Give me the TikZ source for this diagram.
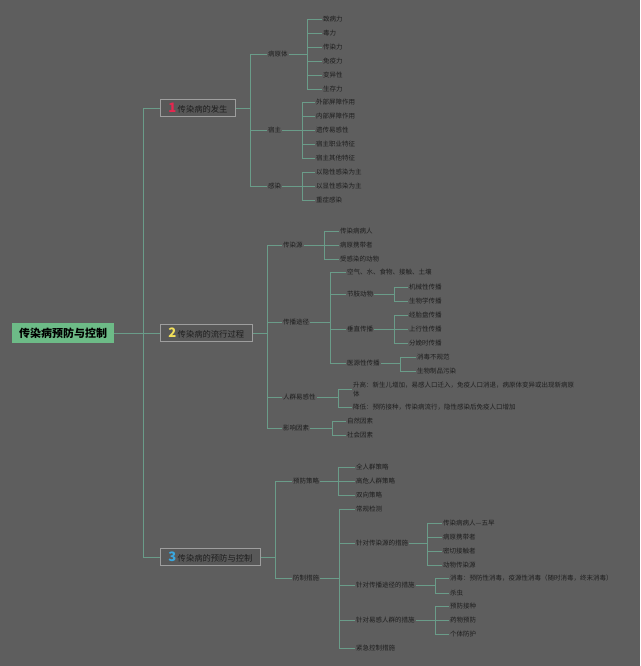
\documentclass[tikz,border=0pt]{standalone}
\usepackage{fontspec}
\setmainfont{Noto Sans CJK SC}
\definecolor{bg}{HTML}{5E5E5E}
\definecolor{lnk}{HTML}{6A9C89}
\definecolor{txt}{HTML}{1E1E1E}
\definecolor{rootg}{HTML}{6DBB87}
\definecolor{bdr}{HTML}{9E9E9E}
\definecolor{boxf}{HTML}{585858}
\definecolor{nred}{HTML}{E8264F}
\definecolor{nyel}{HTML}{F2E05A}
\definecolor{nblu}{HTML}{3AA8E0}
\newcommand{\topicnum}[2]{{\color{#1}\fontsize{13}{13}\selectfont\bfseries #2}\,}
\tikzset{
  link/.style={draw=lnk, line width=0.65pt},
  root/.style={fill=rootg, font=\fontsize{11}{13}\selectfont\bfseries, text=black, minimum width=102pt, minimum height=20pt, inner sep=0pt},
  topic/.style={anchor=west, draw=bdr, fill=boxf, line width=0.8pt, font=\fontsize{8.3}{10}\selectfont, text=txt, minimum height=17pt, inner xsep=8pt, inner ysep=0pt},
  sub/.style={anchor=west, inner xsep=1pt, inner ysep=1pt, font=\fontsize{6.5}{8}\selectfont, text=txt},
}
\begin{document}
\begin{tikzpicture}[x=1pt,y=-1pt]
\useasboundingbox[fill=bg] (0,0) rectangle (640,666);
% root and main topics
\node[root] (root) at (63,333) {传染病预防与控制};
\node[topic] (t1) at (160,108) {\topicnum{nred}{1}传染病的发生};
\node[topic] (t2) at (160,333) {\topicnum{nyel}{2}传染病的流行过程};
\node[topic] (t3) at (160,557) {\topicnum{nblu}{3}传染病的预防与控制};
% 1
\node[sub] (pa) at (267,54) {病原体};
\node[sub] (pa1) at (322,19) {致病力};
\node[sub] (pa2) at (322,33) {毒力};
\node[sub] (pa3) at (322,47) {传染力};
\node[sub] (pa4) at (322,61) {免疫力};
\node[sub] (pa5) at (322,75) {变异性};
\node[sub] (pa6) at (322,89) {生存力};
\node[sub] (ho) at (267,130) {宿主};
\node[sub] (ho1) at (315,102) {外部屏障作用};
\node[sub] (ho2) at (315,116) {内部屏障作用};
\node[sub] (ho3) at (315,130) {遗传易感性};
\node[sub] (ho4) at (315,144) {宿主职业特征};
\node[sub] (ho5) at (315,158) {宿主其他特征};
\node[sub] (in) at (267,186) {感染};
\node[sub] (in1) at (315,172) {以隐性感染为主};
\node[sub] (in2) at (315,186) {以显性感染为主};
\node[sub] (in3) at (315,200) {重症感染};
% 2
\node[sub] (so) at (282,245) {传染源};
\node[sub] (so1) at (339,231) {传染病病人};
\node[sub] (so2) at (339,245) {病原携带者};
\node[sub] (so3) at (339,259) {受感染的动物};
\node[sub] (ro) at (282,322) {传播途径};
\node[sub] (ro1) at (346,272) {空气、水、食物、接触、土壤};
\node[sub] (ro2) at (346,294) {节肢动物};
\node[sub] (ro3) at (346,329) {垂直传播};
\node[sub] (ro4) at (346,363) {医源性传播};
\node[sub] (ar1) at (408,287) {机械性传播};
\node[sub] (ar2) at (408,301) {生物学传播};
\node[sub] (ve1) at (408,315) {经胎盘传播};
\node[sub] (ve2) at (408,329) {上行性传播};
\node[sub] (ve3) at (408,343) {分娩时传播};
\node[sub] (ia1) at (416,357) {消毒不规范};
\node[sub] (ia2) at (416,371) {生物制品污染};
\node[sub] (su) at (282,397) {人群易感性};
\node[sub, align=left, font=\fontsize{6.5}{9}\selectfont] (su1) at (352,389.5) {升高：新生儿增加，易感人口迁入，免疫人口消退，病原体变异或出现新病原\\体};
\node[sub] (su2) at (352,407) {降低：预防接种，传染病流行，隐性感染后免疫人口增加};
\node[sub] (fa) at (282,428) {影响因素};
\node[sub] (fa1) at (346,421) {自然因素};
\node[sub] (fa2) at (346,435) {社会因素};
% 3
\node[sub] (st) at (292,481) {预防策略};
\node[sub] (st1) at (355,467) {全人群策略};
\node[sub] (st2) at (355,481) {高危人群策略};
\node[sub] (st3) at (355,495) {双向策略};
\node[sub] (me) at (292,578) {防制措施};
\node[sub] (me1) at (355,509) {常规检测};
\node[sub] (me2) at (355,543) {针对传染源的措施};
\node[sub] (me3) at (355,585) {针对传播途径的措施};
\node[sub] (me4) at (355,620) {针对易感人群的措施};
\node[sub] (me5) at (355,648) {紧急控制措施};
\node[sub] (sr1) at (442,523) {传染病病人—五早};
\node[sub] (sr2) at (442,537) {病原携带者};
\node[sub] (sr3) at (442,551) {密切接触者};
\node[sub] (sr4) at (442,565) {动物传染源};
\node[sub] (wa1) at (449,578) {消毒：预防性消毒，疫源性消毒（随时消毒，终末消毒）};
\node[sub] (wa2) at (449,593) {杀虫};
\node[sub] (pe1) at (449,606) {预防接种};
\node[sub] (pe2) at (449,620) {药物预防};
\node[sub] (pe3) at (449,634) {个体防护};
% connectors
\draw[link] (root.east) -| ([xshift=-17pt]t1.west) -- (t1.west) (root.east) -- (t2.west) (root.east) -| ([xshift=-17pt]t3.west) -- (t3.west);
\draw[link] (t1.east) -| ([xshift=-17pt]pa.west) -- (pa.west) (t1.east) -| ([xshift=-17pt]ho.west) -- (ho.west) (t1.east) -| ([xshift=-17pt]in.west) -- (in.west);
\draw[link] (pa.east) -| ([xshift=-15pt]pa1.west) -- (pa1.west) (pa.east) -| ([xshift=-15pt]pa2.west) -- (pa2.west) (pa.east) -| ([xshift=-15pt]pa3.west) -- (pa3.west) (pa.east) -| ([xshift=-15pt]pa4.west) -- (pa4.west) (pa.east) -| ([xshift=-15pt]pa5.west) -- (pa5.west) (pa.east) -| ([xshift=-15pt]pa6.west) -- (pa6.west);
\draw[link] (ho.east) -| ([xshift=-13pt]ho1.west) -- (ho1.west) (ho.east) -| ([xshift=-13pt]ho2.west) -- (ho2.west) (ho.east) -- (ho3.west) (ho.east) -| ([xshift=-13pt]ho4.west) -- (ho4.west) (ho.east) -| ([xshift=-13pt]ho5.west) -- (ho5.west);
\draw[link] (in.east) -| ([xshift=-13pt]in1.west) -- (in1.west) (in.east) -- (in2.west) (in.east) -| ([xshift=-13pt]in3.west) -- (in3.west);
\draw[link] (t2.east) -| ([xshift=-15pt]so.west) -- (so.west) (t2.east) -| ([xshift=-15pt]ro.west) -- (ro.west) (t2.east) -| ([xshift=-15pt]su.west) -- (su.west) (t2.east) -| ([xshift=-15pt]fa.west) -- (fa.west);
\draw[link] (so.east) -| ([xshift=-15pt]so1.west) -- (so1.west) (so.east) -- (so2.west) (so.east) -| ([xshift=-15pt]so3.west) -- (so3.west);
\draw[link] (ro.east) -| ([xshift=-16pt]ro1.west) -- (ro1.west) (ro.east) -| ([xshift=-16pt]ro2.west) -- (ro2.west) (ro.east) -| ([xshift=-16pt]ro3.west) -- (ro3.west) (ro.east) -| ([xshift=-16pt]ro4.west) -- (ro4.west);
\draw[link] (ro2.east) -| ([xshift=-14pt]ar1.west) -- (ar1.west) (ro2.east) -| ([xshift=-14pt]ar2.west) -- (ar2.west);
\draw[link] (ro3.east) -| ([xshift=-14pt]ve1.west) -- (ve1.west) (ro3.east) -- (ve2.west) (ro3.east) -| ([xshift=-14pt]ve3.west) -- (ve3.west);
\draw[link] (ro4.east) -| ([xshift=-16pt]ia1.west) -- (ia1.west) (ro4.east) -| ([xshift=-16pt]ia2.west) -- (ia2.west);
\draw[link] (su.east) -| ([xshift=-14pt]su1.west) -- (su1.west) (su.east) -| ([xshift=-14pt]su2.west) -- (su2.west);
\draw[link] (fa.east) -| ([xshift=-14pt]fa1.west) -- (fa1.west) (fa.east) -| ([xshift=-14pt]fa2.west) -- (fa2.west);
\draw[link] (t3.east) -| ([xshift=-17pt]st.west) -- (st.west) (t3.east) -| ([xshift=-17pt]me.west) -- (me.west);
\draw[link] (st.east) -| ([xshift=-17pt]st1.west) -- (st1.west) (st.east) -- (st2.west) (st.east) -| ([xshift=-17pt]st3.west) -- (st3.west);
\draw[link] (me.east) -| ([xshift=-16pt]me1.west) -- (me1.west) (me.east) -| ([xshift=-16pt]me2.west) -- (me2.west) (me.east) -| ([xshift=-16pt]me3.west) -- (me3.west) (me.east) -| ([xshift=-16pt]me4.west) -- (me4.west) (me.east) -| ([xshift=-16pt]me5.west) -- (me5.west);
\draw[link] (me2.east) -| ([xshift=-15pt]sr1.west) -- (sr1.west) (me2.east) -| ([xshift=-15pt]sr2.west) -- (sr2.west) (me2.east) -| ([xshift=-15pt]sr3.west) -- (sr3.west) (me2.east) -| ([xshift=-15pt]sr4.west) -- (sr4.west);
\draw[link] (me3.east) -| ([xshift=-14pt]wa1.west) -- (wa1.west) (me3.east) -| ([xshift=-14pt]wa2.west) -- (wa2.west);
\draw[link] (me4.east) -| ([xshift=-14pt]pe1.west) -- (pe1.west) (me4.east) -- (pe2.west) (me4.east) -| ([xshift=-14pt]pe3.west) -- (pe3.west);
\end{tikzpicture}
\end{document}
